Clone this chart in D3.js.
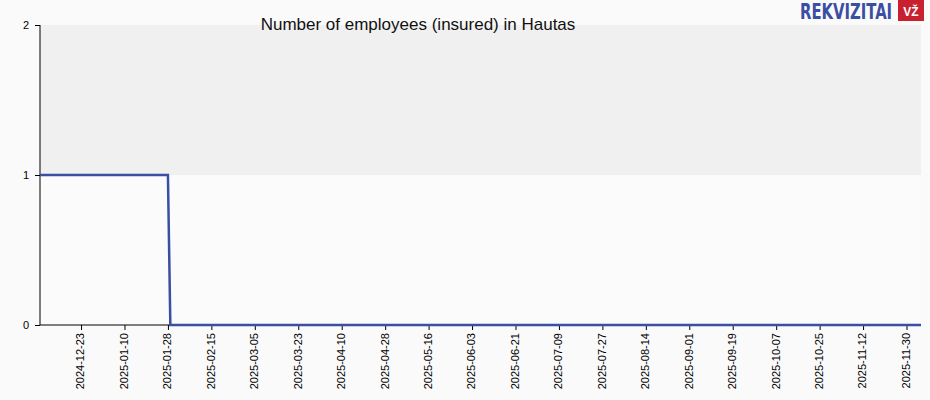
<!DOCTYPE html>
<meta charset="utf-8">
<style>
    body { margin: 0; background: #fafafa; }
    .tick text { font: 11px "Liberation Sans", Arial, sans-serif; fill: #000; }
    .title { font: 17px "Liberation Sans", Arial, sans-serif; fill: #111; }
</style>
<body>
<script src="https://d3js.org/d3.v7.min.js"></script>
<script>
    // Data
    var dates = ["2024-12-06", "2025-01-28", "2025-01-29", "2025-12-06"];
    var values = [1, 1, 0, 0];
    var tickDates = ["2024-12-23", "2025-01-10", "2025-01-28", "2025-02-15", "2025-03-05",
        "2025-03-23", "2025-04-10", "2025-04-28", "2025-05-16", "2025-06-03", "2025-06-21",
        "2025-07-09", "2025-07-27", "2025-08-14", "2025-09-01", "2025-09-19", "2025-10-07",
        "2025-10-25", "2025-11-12", "2025-11-30"];
    var yTicks = [0, 1, 2];

    var width = 930, height = 400;
    var margin = { top: 25, right: 9, bottom: 75, left: 40 };

    var parse = d3.utcParse("%Y-%m-%d");
    var points = dates.map((d, i) => ({ date: parse(d), value: values[i] }));

    var svg = d3.select("body").append("svg")
        .attr("width", width)
        .attr("height", height);

    var x = d3.scaleUtc()
        .domain([parse("2024-12-06"), parse("2025-12-06")])
        .range([margin.left, width - margin.right]);
    var y = d3.scaleLinear()
        .domain([0, 2])
        .range([height - margin.bottom, margin.top]);

    // Bands
    svg.append("rect")
        .attr("x", margin.left).attr("width", x.range()[1] - margin.left)
        .attr("y", y(2)).attr("height", y(1) - y(2))
        .attr("fill", "#f0f0f0");
    svg.append("rect")
        .attr("x", margin.left).attr("width", x.range()[1] - margin.left)
        .attr("y", y(1)).attr("height", y(0) - y(1))
        .attr("fill", "#fbfbfb");

    // Title
    svg.append("text")
        .attr("class", "title")
        .attr("x", 418).attr("y", 30)
        .attr("text-anchor", "middle")
        .text("Number of employees (insured) in Hautas");

    // Axes
    svg.append("g")
        .attr("transform", "translate(" + margin.left + ",0)")
        .call(d3.axisLeft(y).tickValues(yTicks).tickFormat(d3.format("d")).tickSize(5).tickPadding(6))
        .call(g => g.select(".domain").attr("d", "M0," + y(0) + "V" + y(2)));

    var xAxis = svg.append("g")
        .attr("transform", "translate(0," + y(0) + ")")
        .call(d3.axisBottom(x).tickValues(tickDates.map(parse)).tickFormat(d3.utcFormat("%Y-%m-%d")).tickSize(5))
        .call(g => g.select(".domain").attr("d", "M" + margin.left + ",0H" + x.range()[1]));
    xAxis.selectAll(".tick text")
        .attr("transform", "rotate(-90)")
        .attr("text-anchor", "end")
        .attr("x", -8)
        .attr("y", -1)
        .attr("dy", "0.35em");

    // Line
    var line = d3.line()
        .x(d => x(d.date))
        .y(d => y(d.value));
    svg.append("path")
        .datum(points)
        .attr("fill", "none")
        .attr("stroke", "#3a4ea3")
        .attr("stroke-width", 2.5)
        .attr("d", line);

    // Logo
    svg.append("text")
        .attr("transform", "translate(800,19) scale(1,1.25)")
        .attr("font-family", "'DejaVu Sans Condensed', 'Liberation Sans Narrow', sans-serif")
        .attr("font-weight", "bold")
        .attr("font-size", 16.5)
        .attr("fill", "#3a4ea3")
        .text("REKVIZITAI");
    svg.append("rect")
        .attr("x", 898).attr("y", 0).attr("width", 26).attr("height", 21)
        .attr("fill", "#c8202f");
    svg.append("text")
        .attr("x", 911).attr("y", 16)
        .attr("text-anchor", "middle")
        .attr("font-family", "'Liberation Sans', Arial, sans-serif")
        .attr("font-weight", "bold")
        .attr("font-size", 12)
        .attr("fill", "#fff")
        .text("VŽ");
</script>
</body>
